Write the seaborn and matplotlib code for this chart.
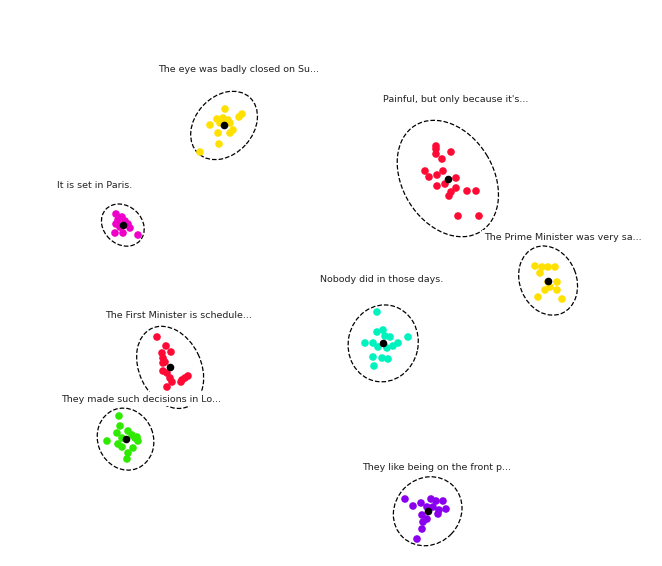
import numpy as np
import pandas as pd
import seaborn as sns
import matplotlib
matplotlib.use("Agg")
import matplotlib.pyplot as plt
from matplotlib.patches import Ellipse

# sentence labels (truncated as in the original)
labels = [
    "The eye was badly closed on Su...",
    "Painful, but only because it's...",
    "It is set in Paris.",
    "The Prime Minister was very sa...",
    "Nobody did in those days.",
    "The First Minister is schedule...",
    "They made such decisions in Lo...",
    "They like being on the front p...",
]

cluster_colors = ["#FFE000", "#FF0A35", "#EE00C8", "#FFE000",
                  "#00F2BE", "#FF0A35", "#2EEA00", "#8A00EE"]

# 2-d embedding coordinates (screen-like units, y down)
x0 = [225, 242, 239, 217, 210, 220, 228, 230, 227, 223, 233, 230, 218, 219, 200]
y0 = [109, 114, 117, 119, 125, 123, 120, 123, 122, 118, 130, 133, 133, 144, 152]

x1 = [436, 436, 436, 442, 451, 425, 429, 437, 443, 456, 456, 437, 445, 451, 449, 467, 476, 458, 479]
y1 = [146, 149, 154, 159, 152, 171, 177, 175, 171, 178, 188, 186, 184, 192, 196, 191, 191, 216, 216]

x2 = [116, 122, 125, 128, 116, 120, 123, 115, 130, 138, 118]
y2 = [214, 217, 221, 224, 224, 227, 233, 233, 228, 235, 220]

x3 = [535, 542, 548, 555, 540, 548, 557, 550, 545, 557, 538, 562]
y3 = [266, 267, 267, 267, 273, 282, 282, 287, 290, 290, 297, 299]

x4 = [377, 377, 383, 385, 390, 365, 373, 378, 387, 393, 398, 408, 373, 382, 388, 374]
y4 = [312, 332, 330, 336, 337, 343, 343, 347, 348, 346, 343, 337, 357, 358, 359, 366]

x5 = [157, 166, 162, 171, 163, 163, 165, 163, 167, 170, 172, 167, 182, 185, 188, 181]
y5 = [337, 346, 353, 352, 358, 363, 362, 371, 373, 378, 382, 387, 380, 378, 376, 382]

x6 = [119, 120, 117, 128, 132, 137, 135, 107, 122, 118, 122, 133, 128, 127, 138]
y6 = [416, 426, 433, 431, 435, 437, 438, 441, 438, 444, 447, 448, 453, 459, 441]

x7 = [405, 413, 421, 431, 436, 443, 433, 427, 439, 446, 422, 427, 423, 422, 417, 438]
y7 = [499, 506, 503, 499, 501, 501, 507, 507, 510, 509, 515, 519, 522, 529, 539, 514]

# where each sentence label sits
label_x = [239, 456, 95, 563, 382, 179, 141, 437]
label_y = [69, 99, 186, 237, 280, 315, 399, 467]

xs = [x0, x1, x2, x3, x4, x5, x6, x7]
ys = [y0, y1, y2, y3, y4, y5, y6, y7]

rows = []
for i, (cx, cy) in enumerate(zip(xs, ys)):
    for a, b in zip(cx, cy):
        rows.append({"x": a, "y": b, "cluster": i})
df = pd.DataFrame(rows)

fig = plt.figure(figsize=(6.62, 5.66), dpi=100)
ax = fig.add_axes([0, 0, 1, 1])

sns.scatterplot(data=df, x="x", y="y", hue="cluster",
                palette=dict(enumerate(cluster_colors)),
                s=30, linewidth=0, legend=False, ax=ax, zorder=2)

cent = df.groupby("cluster")[["x", "y"]].mean()
sns.scatterplot(data=cent, x="x", y="y", color="black", s=30,
                linewidth=0, legend=False, ax=ax, zorder=3)

# confidence ellipse from a shrunk covariance
n_std = 3.05
shrink = 0.55
for i in range(len(xs)):
    pts = df[df["cluster"] == i][["x", "y"]].to_numpy(dtype=float)
    cov = np.cov(pts, rowvar=False)
    cov = (1 - shrink) * cov + shrink * np.trace(cov) / 2 * np.eye(2)
    vals, vecs = np.linalg.eigh(cov)
    order = vals.argsort()[::-1]
    vals, vecs = vals[order], vecs[:, order]
    angle = np.degrees(np.arctan2(vecs[1, 0], vecs[0, 0]))
    w, h = 2 * n_std * np.sqrt(vals)
    ell = Ellipse(pts.mean(axis=0), w, h, angle=angle, fill=False,
                  edgecolor="black", linestyle="--", linewidth=0.9, zorder=1)
    ax.add_patch(ell)

for txt, lx, ly in zip(labels, label_x, label_y):
    ax.text(lx, ly, txt, ha="center", va="center", fontsize=6.8,
            color="#222222", zorder=5,
            bbox=dict(facecolor="white", edgecolor="none", pad=1.5))

ax.set_xlim(0, 662)
ax.set_ylim(566, 0)
ax.axis("off")

fig.savefig("out.png", dpi=100, facecolor="white")
